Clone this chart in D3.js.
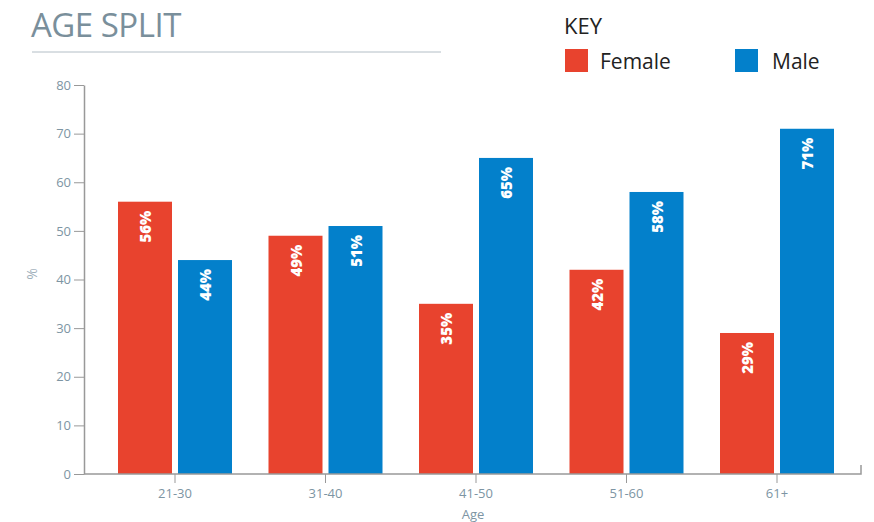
<!DOCTYPE html>
<html><head><meta charset="utf-8">
<script src="https://cdn.jsdelivr.net/npm/d3@7"></script>
<style>body{margin:0;background:#fff}svg{display:block}</style>
</head><body>
<svg id="c" width="874" height="522"></svg>
<script>
const categories = ["21-30","31-40","41-50","51-60","61+"];
const seriesNames = ["Female","Male"];
const female = [56,49,35,42,29];
const male = [44,51,65,58,71];
const yTicks = [0,10,20,30,40,50,60,70,80];
const colors = {Female:"#e8432e", Male:"#0380cb"};

const svg = d3.select("#c");
const x0 = 84, x1 = 861, yBase = 474, yTop = 85;
const x = d3.scaleBand().domain(categories).range([99.75, 852.25]);
const xs = d3.scaleBand().domain(seriesNames).range([0,114]).paddingInner(0.1);
const y = d3.scaleLinear().domain([0,80]).range([yBase, yTop]);

// title
svg.append("text").attr("x",31).attr("y",37).text("AGE SPLIT")
  .attr("font-family","Open Sans").attr("font-size",33).attr("fill","#7a8f9b").attr("letter-spacing",-0.5);
svg.append("line").attr("x1",32).attr("x2",441).attr("y1",52).attr("y2",52).attr("stroke","#b3bec6").attr("stroke-width",1);

// legend
svg.append("text").attr("x",564).attr("y",34).text("KEY").attr("font-family","Open Sans").attr("font-size",22).attr("fill","#222");
const leg = [{n:"Female",sx:565,tx:600},{n:"Male",sx:735,tx:772}];
leg.forEach(l=>{
  svg.append("rect").attr("x",l.sx).attr("y",49).attr("width",23).attr("height",23).attr("fill",colors[l.n]);
  svg.append("text").attr("x",l.tx).attr("y",69).text(l.n).attr("font-family","Open Sans").attr("font-size",21).attr("fill","#222");
});

// y axis
const yAxis = svg.append("g").attr("transform",`translate(${x0},0)`)
  .call(d3.axisLeft(y).tickValues(yTicks).tickSize(10).tickSizeOuter(0).tickPadding(3));
yAxis.select(".domain").attr("stroke","#999").attr("stroke-width",1.5);
yAxis.selectAll(".tick line").attr("stroke","#999");
yAxis.selectAll("text").attr("font-family","Open Sans").attr("font-size",13).attr("fill","#7d95a3");
svg.append("text").attr("transform","translate(37,274) rotate(-90)").attr("text-anchor","middle")
  .text("%").attr("font-family","Open Sans").attr("font-size",14).attr("fill","#9fb0bb");

// bars
const data = categories.map((c,i)=>({c, vals:[{s:"Female",v:female[i]},{s:"Male",v:male[i]}]}));
const groups = svg.append("g").selectAll("g").data(data).join("g")
  .attr("transform",d=>`translate(${x(d.c)+x.bandwidth()/2-57},0)`);
groups.selectAll("rect").data(d=>d.vals).join("rect")
  .attr("x",d=>xs(d.s)).attr("width",xs.bandwidth())
  .attr("y",d=>y(d.v)).attr("height",d=>yBase-y(d.v)).attr("fill",d=>colors[d.s]);
groups.selectAll("text").data(d=>d.vals).join("text")
  .attr("transform",d=>`translate(${xs(d.s)+xs.bandwidth()/2},${y(d.v)+9}) rotate(-90)`)
  .attr("dominant-baseline","central").attr("text-anchor","end")
  .text(d=>d.v+"%").attr("font-family","Open Sans").attr("font-weight",800).attr("font-size",15).attr("fill","#fff");

// x axis
const xAxis = svg.append("g").attr("transform",`translate(0,${yBase})`)
  .call(d3.axisBottom(x).tickSize(9).tickSizeOuter(0).tickPadding(6));
xAxis.select(".domain").remove();
xAxis.selectAll(".tick line").attr("stroke","#999");
xAxis.selectAll("text").attr("font-family","Open Sans").attr("font-size",13).attr("fill","#7d95a3");
svg.append("path").attr("d",`M${x0},${yBase}H${x1}V${yBase-9}`).attr("fill","none").attr("stroke","#999").attr("stroke-width",1.5);
svg.append("text").attr("x",473).attr("y",519).attr("text-anchor","middle").text("Age")
  .attr("font-family","Open Sans").attr("font-size",13).attr("fill","#7d95a3");
</script>
</body></html>
